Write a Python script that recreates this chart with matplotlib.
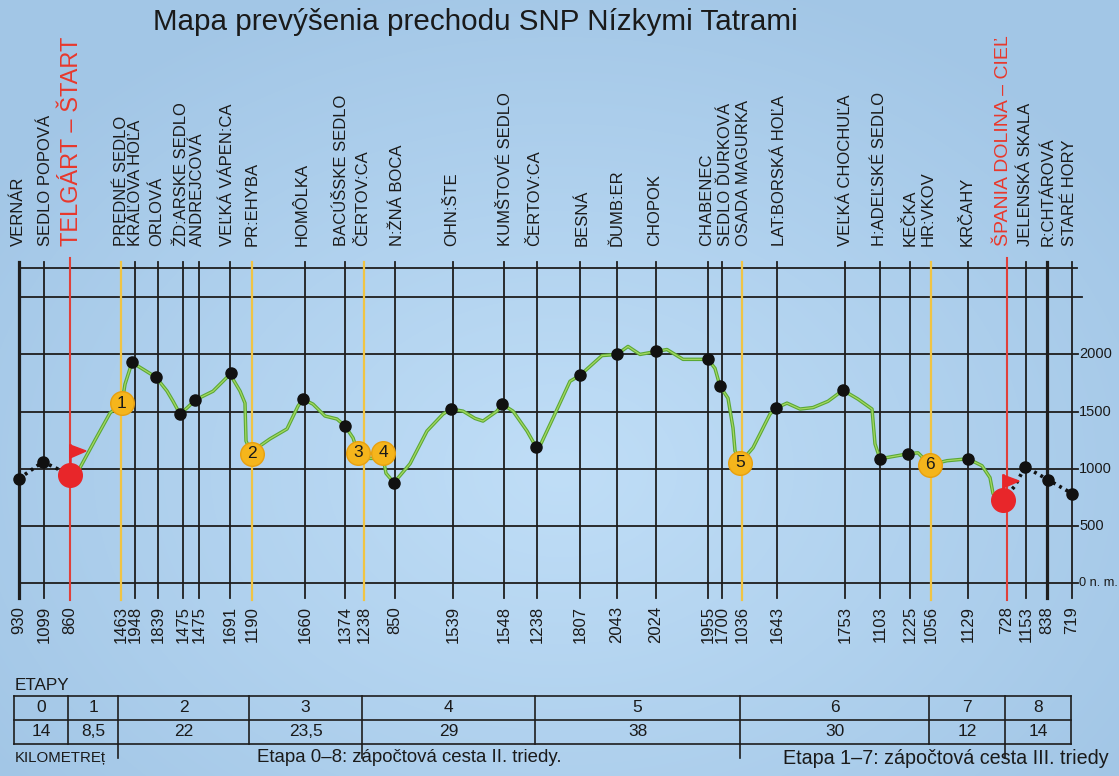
import numpy as np
import matplotlib
matplotlib.use('Agg')
import matplotlib.pyplot as plt
from matplotlib.patches import Polygon

plt.rcParams['font.family'] = ['Liberation Sans', 'DejaVu Sans']

# ---------------- data ----------------
title = "Mapa prevýšenia prechodu SNP Nízkymi Tatrami"

station_names = ["VERNÁR", "SEDLO POPOVÁ", "TELGÁRT – ŠTART", "PREDNÉ SEDLO", "KRÁĽOVA HOĽA",
                 "ORLOVÁ", "ŽD:ARSKE SEDLO", "ANDREJCOVÁ", "VEĽKÁ VÁPEN:CA", "PR:EHYBA",
                 "HOMÔLKA", "BACÚŠSKE SEDLO", "ČERTOV:CA", "N:ŽNÁ BOCA", "OHN:ŠTE",
                 "KUMŠTOVÉ SEDLO", "ČERTOV:CA", "BESNÁ", "ĎUMB:ER", "CHOPOK",
                 "CHABENEC", "SEDLO ĎURKOVÁ", "OSADA MAGURKA", "LAT:BORSKÁ HOĽA", "VEĽKÁ CHOCHUĽA",
                 "H:ADEĽSKÉ SEDLO", "KEČKA", "HR:VKOV", "KRČAHY", "ŠPANIA DOLINA – CIEĽ",
                 "JELENSKÁ SKALA", "R:CHTÁROVÁ", "STARÉ HORY"]
station_pos = [19, 44, 70, 121, 135, 158, 183, 199, 230, 252,
               305, 345, 364, 395, 453, 504, 537, 580, 617, 656,
               708, 722, 742, 777, 845, 880, 910, 931, 968, 1007,
               1026, 1047, 1072]
label_pos = [18, 46, 72, 121, 135, 157, 182, 197, 227, 252,
             302, 342, 363, 398, 452, 505, 535, 582, 617, 655,
             707, 725, 743, 780, 845, 880, 910, 928, 967, 1003,
             1025, 1048, 1070]
station_elev_labels = [930, 1099, 860, 1463, 1948, 1839, 1475, 1475, 1691, 1190,
                       1660, 1374, 1238, 850, 1539, 1548, 1238, 1807, 2043, 2024,
                       1955, 1700, 1036, 1643, 1753, 1103, 1225, 1056, 1129, 728,
                       1153, 838, 719]
station_kind = ['K', 'k', 'r', 'y', 'k', 'k', 'k', 'k', 'k', 'y',
                'k', 'k', 'y', 'k', 'k', 'k', 'k', 'k', 'k', 'k',
                'k', 'k', 'y', 'k', 'k', 'k', 'k', 'y', 'k', 'r',
                'k', 'K', 'k']

# green route profile (stages 1-7)
profile_x = [80, 95, 110, 122, 125, 132, 145, 156, 167, 173, 180, 188, 195, 213, 231,
             233, 240, 245, 246, 252, 260, 270, 287, 298, 303, 313, 325, 337, 345,
             353, 358, 366, 376, 383, 386, 394, 410, 427, 443, 451, 463, 475, 483,
             497, 502, 513, 527, 536, 540, 553, 570, 580, 602, 617, 628, 640, 656,
             667, 683, 700, 708, 715, 720, 728, 733, 735, 740, 753, 770, 776, 787,
             800, 813, 828, 843, 858, 872, 875, 880, 908, 918, 930, 947, 968, 982,
             990, 993, 1003]
profile_elev = [1009, 1250, 1487, 1574, 1739, 1930, 1860, 1800, 1680, 1591, 1478, 1540, 1600, 1678, 1835,
                1783, 1680, 1574, 1243, 1130, 1200, 1261, 1348, 1548, 1609, 1565, 1461, 1435, 1374,
                1270, 1139, 1090, 1090, 1100, 960, 878, 1043, 1330, 1478, 1522, 1504, 1440, 1417,
                1504, 1565, 1504, 1330, 1191, 1200, 1443, 1765, 1817, 1990, 2000, 2070, 2000, 2026,
                2043, 1957, 1957, 1957, 1878, 1722, 1617, 1357, 1157, 1052, 1183, 1478, 1530, 1574,
                1522, 1535, 1590, 1687, 1609, 1522, 1217, 1087, 1130, 1139, 1035, 1070, 1087, 1026,
                922, 783, 726]

dot_x = [132, 156, 180, 195, 231, 303, 345, 394, 451, 502, 536, 580, 617, 656, 708,
         720, 776, 843, 880, 908, 968]
dot_elev = [1930, 1800, 1478, 1600, 1835, 1609, 1374, 878, 1522, 1565, 1191, 1817, 2000, 2026, 1957,
            1722, 1530, 1687, 1087, 1130, 1087]

approach_x = [19, 43, 70]
approach_elev = [913, 1061, 945]
exit_x = [1003, 1015, 1025, 1048, 1072]
exit_elev = [726, 850, 1017, 904, 783]

start_x, start_elev = 70, 945
end_x, end_elev = 1003, 726

badge_labels = ['1', '2', '3', '4', '5', '6']
badge_x = [122, 252, 358, 383, 740, 930]
badge_elev = [1574, 1130, 1139, 1139, 1052, 1035]

stage_ids = ['0', '1', '2', '3', '4', '5', '6', '7', '8']
stage_km = ['14', '8,5', '22', '23,5', '29', '38', '30', '12', '14']
stage_edges = [14, 68, 118, 249, 362, 535, 740, 929, 1005, 1071]

elev_ticks = [0, 500, 1000, 1500, 2000, 2500]
elev_tick_labels = ['0 n. m.', '500', '1000', '1500', '2000', '']

# ---------------- layout helpers ----------------
W, H = 1119, 776
ZERO_PX = 583.0
M_PER_PX = 8.75


def ypix(p):
    return (ZERO_PX - p) * M_PER_PX


fig = plt.figure(figsize=(W / 100, H / 100), dpi=100)
ax = fig.add_axes([0, 0, 1, 1])
ax.set_xlim(0, W)
ax.set_ylim(ypix(H), ypix(0))
ax.axis('off')

# background gradient
yy, xx = np.mgrid[0:H, 0:W]
r = np.sqrt(((xx - 560) / 700.0) ** 2 + ((yy - 470) / 520.0) ** 2)
r = np.clip(r, 0, 1)
c_in = np.array([0xc0, 0xde, 0xf7]) / 255.0
c_out = np.array([0xa2, 0xc6, 0xe6]) / 255.0
img = c_in[None, None, :] * (1 - r[..., None]) + c_out[None, None, :] * r[..., None]
ax.imshow(img, extent=(0, W, ypix(H), ypix(0)), aspect='auto', zorder=0)

# title
ax.text(475, ypix(22), title, ha='center', va='center', fontsize=21.3, color='#1a1a1a')

grid_col = '#1e1e1e'
# horizontal grid
for e in elev_ticks:
    xe = 1082 if e == 2500 else 1078
    ax.plot([19, xe], [e, e], color=grid_col, lw=1.3, zorder=2)
ax.plot([19, 1077], [ypix(268), ypix(268)], color=grid_col, lw=1.3, zorder=2)
for e, lab in zip(elev_ticks, elev_tick_labels):
    if lab:
        fs = 9.2 if e == 0 else 10.5
        ax.text(1079, e, lab, ha='left', va='center', fontsize=fs, color='#1a1a1a')

# vertical station lines
for x, k in zip(station_pos, station_kind):
    if k == 'y':
        ax.plot([x, x], [ypix(262), ypix(600)], color='#f0c444', lw=1.6, zorder=2)
    elif k == 'r':
        ax.plot([x, x], [ypix(258), ypix(600)], color='#e0403a', lw=1.5, zorder=2)
    elif k == 'K':
        ax.plot([x, x], [ypix(262), ypix(598)], color=grid_col, lw=2.3, zorder=2)
    else:
        ax.plot([x, x], [ypix(262), ypix(598)], color=grid_col, lw=1.3, zorder=2)

# station names (top) and elevations (bottom)
for name, x, k in zip(station_names, label_pos, station_kind):
    if k == 'r':
        fs = 17 if x < 500 else 14
        ax.text(x, ypix(246), name, rotation=90, ha='center', va='bottom',
                fontsize=fs, color='#e8382c')
    else:
        ax.text(x, ypix(246), name, rotation=90, ha='center', va='bottom',
                fontsize=12, color='#1a1a1a')
for v, x in zip(station_elev_labels, station_pos):
    ax.text(x, ypix(606), str(v), rotation=90, ha='center', va='top',
            fontsize=12, color='#1a1a1a')

# route profile
ax.plot(approach_x, approach_elev, color='#111111', lw=2.6, ls=(0, (0.8, 1.2)), zorder=3)
ax.plot(exit_x, exit_elev, color='#111111', lw=2.6, ls=(0, (0.8, 1.2)), zorder=3)
ax.plot(profile_x, profile_elev, color='#5aa836', lw=2.5, zorder=3, solid_joinstyle='round')
ax.plot(profile_x, profile_elev, color='#a6d861', lw=0.9, zorder=3, solid_joinstyle='round')

ax.plot(dot_x, dot_elev, 'o', color='#111111', ms=8, zorder=4)
ax.plot(approach_x[:2], approach_elev[:2], 'o', color='#111111', ms=8, zorder=4)
ax.plot(exit_x[2:], exit_elev[2:], 'o', color='#111111', ms=8, zorder=4)

# start / end flags
for (fx, fe) in [(start_x, start_elev), (end_x, end_elev)]:
    top = fe + 25 * M_PER_PX + (5 * M_PER_PX if fx == start_x else 0)
    ax.plot([fx, fx], [fe, top], color='#e8262a', lw=1.8, zorder=5)
    tri = Polygon([[fx, top], [fx + 16, top - 6 * M_PER_PX], [fx, top - 13 * M_PER_PX]],
                  closed=True, color='#e8262a', zorder=5)
    ax.add_patch(tri)
ax.plot([start_x, end_x], [start_elev, end_elev], 'o', ls='none', color='#e8262a', ms=17, zorder=6)

# stage badges
for lab, x, e in zip(badge_labels, badge_x, badge_elev):
    ax.plot(x, e, 'o', color='#f5b51c', mec='#e8a010', ms=17, zorder=6)
    ax.text(x, e, lab, ha='center', va='center', fontsize=12.5, color='#1a1a1a', zorder=7)

# stages table
t_top, t_mid, t_bot = ypix(696), ypix(720), ypix(744)
x0, x1 = stage_edges[0], stage_edges[-1]
for yv in (t_top, t_mid, t_bot):
    ax.plot([x0, x1], [yv, yv], color=grid_col, lw=1.2, zorder=2)
for xe in stage_edges:
    ax.plot([xe, xe], [t_top, t_bot], color=grid_col, lw=1.2, zorder=2)
for xe in (118, 362, 740, 1005):
    ax.plot([xe, xe], [t_bot, ypix(758)], color=grid_col, lw=1.2, zorder=2)
for i in range(len(stage_ids)):
    xc = (stage_edges[i] + stage_edges[i + 1]) / 2
    ax.text(xc, ypix(708), stage_ids[i], ha='center', va='center', fontsize=12.5, color='#1a1a1a')
    ax.text(xc, ypix(732), stage_km[i], ha='center', va='center', fontsize=12.5, color='#1a1a1a')

ax.text(15, ypix(685), "ETAPY", ha='left', va='center', fontsize=12.3, color='#1a1a1a')
ax.text(15, ypix(758), "KILOMETREț", ha='left', va='center', fontsize=10.8, color='#1a1a1a')
ax.text(257, ypix(758), "Etapa 0–8: zápočtová cesta II. triedy.", ha='left', va='center',
        fontsize=13.4, color='#1a1a1a')
ax.text(1109, ypix(758), "Etapa 1–7: zápočtová cesta III. triedy", ha='right', va='center',
        fontsize=14.2, color='#1a1a1a')

fig.savefig('out.png', dpi=100)
